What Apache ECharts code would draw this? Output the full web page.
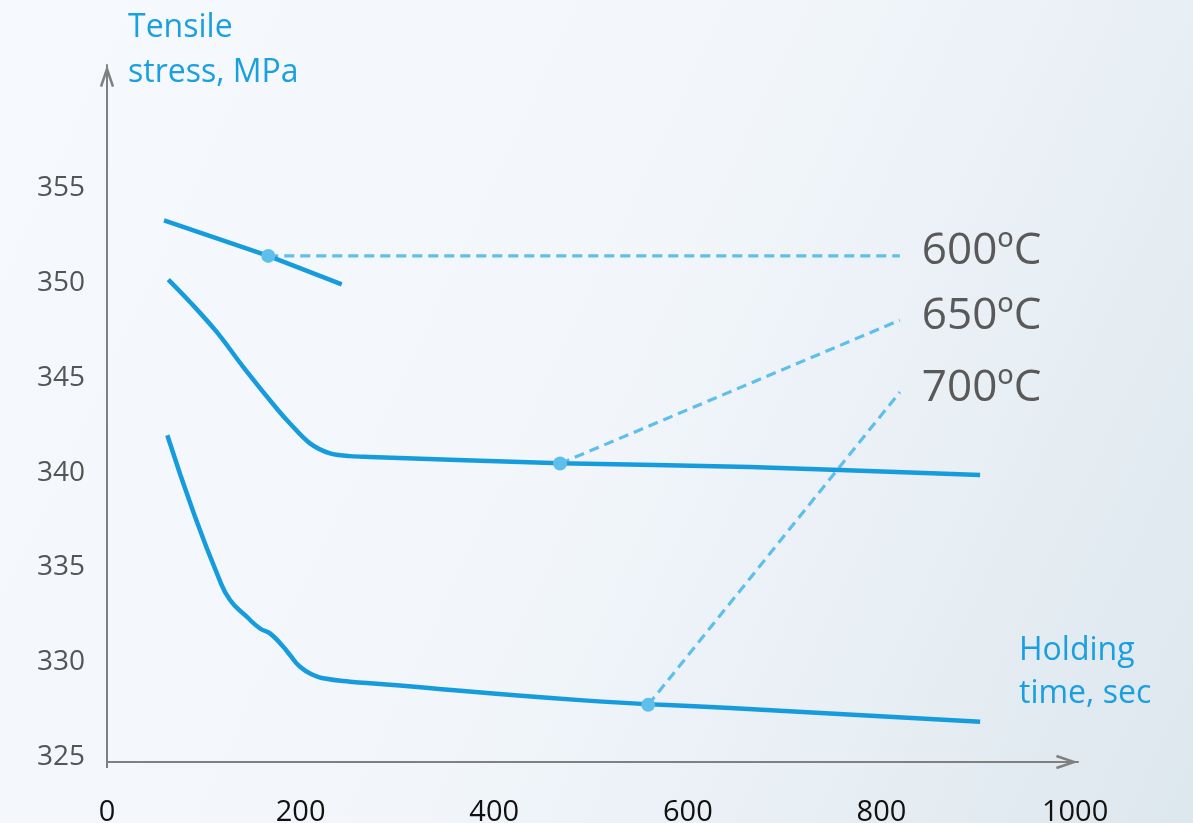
<!DOCTYPE html>
<html><head><meta charset="utf-8">
<script src="https://cdn.jsdelivr.net/npm/echarts@6/dist/echarts.min.js"></script>
<style>
html,body{margin:0;padding:0;}
#c{width:1193px;height:823px;background:linear-gradient(115deg,#f6f9fe 0%,#f2f6fb 50%,#dde7ee 100%);}
</style>
</head><body><div id="c"></div>
<script>
// ---- data ----
const xTicks = [0, 200, 400, 600, 800, 1000];
const yTicks = [325, 330, 335, 340, 345, 350, 355];

const time600 = [58.9, 166.6, 242.5];
const stress600 = [353.31, 351.43, 349.93];

const time650 = [63.3, 85.7, 113.3, 140.8, 175.3, 189, 209.7, 230.4, 251, 271.7, 468, 664, 901.9];
const stress650 = [350.18, 349.0, 347.42, 345.57, 343.38, 342.59, 341.54, 341.01, 340.87, 340.83, 340.50, 340.29, 339.87];

const time700 = [62.3, 89.2, 115.0, 127.1, 144.3, 158.1, 168.4, 182.1, 189.0, 199.4, 213.1, 223.5, 251.0, 282, 488.6, 643.6, 901.9];
const stress700 = [341.97, 337.92, 334.50, 333.28, 332.40, 331.78, 331.52, 330.81, 330.38, 329.76, 329.32, 329.15, 328.97, 328.85, 328.0, 327.58, 326.86];

const tempLabels = ['600ºC', '650ºC', '700ºC'];
const markerTime = [166.6, 468, 559];
const markerStress = [351.43, 340.48, 327.75];
const leaderEndTime = [819, 819, 819];
const leaderEndStress = [351.43, 348.04, 344.25];

// ---- styles ----
const FONT = "'Open Sans', 'Noto Sans', sans-serif";
const LINE_BLUE = '#169cdc';
const LIGHT_BLUE = '#5ec0ea';
const AXIS_GRAY = '#808080';
const CHEVRON = 'path://M15,0 L30,44 L25,45.8 L15,16.5 L5,45.8 L0,44 Z';

const zip = (xs, ys) => xs.map((x, i) => [x, ys[i]]);

const dataLine = (name, xs, ys, smooth) => ({
  type: 'line', name, data: zip(xs, ys), smooth, showSymbol: false, symbol: 'none',
  lineStyle: { color: LINE_BLUE, width: 4.5, cap: 'butt' }, z: 3, silent: true
});

const leaders = tempLabels.map((t, i) => ({
  type: 'line', name: t,
  data: [[markerTime[i], markerStress[i]], [leaderEndTime[i], leaderEndStress[i]]],
  symbol: 'none', showSymbol: false,
  lineStyle: { color: LIGHT_BLUE, width: 3.2, type: [10, 6] }, z: 2, silent: true,
  endLabel: { show: true, formatter: () => t, distance: 22, offset: [0, -4],
              fontSize: 44, color: '#595959', fontFamily: FONT }
}));

const chart = echarts.init(document.getElementById('c'), null, { renderer: 'canvas' });
chart.setOption({
  backgroundColor: 'transparent',
  animation: false,
  grid: { left: 107, right: 115, top: 65, bottom: 66, outerBoundsMode: 'none', containLabel: false },
  xAxis: {
    type: 'value', min: 0, max: 1003, interval: 200, offset: 5,
    name: 'Holding\ntime, sec', nameLocation: 'end', nameGap: -59,
    nameTextStyle: { color: '#1a9fe0', fontSize: 32, fontFamily: FONT, align: 'left',
                     verticalAlign: 'bottom', lineHeight: 43, padding: [0, 0, 47, 0] },
    axisLine: { show: true, lineStyle: { color: AXIS_GRAY, width: 2 },
                symbol: ['none', CHEVRON], symbolSize: [15, 22], symbolOffset: [0, -11] },
    axisTick: { show: false }, splitLine: { show: false },
    axisLabel: { formatter: v => xTicks.includes(v) ? String(v) : '', color: '#111', fontSize: 29,
                 fontFamily: FONT, margin: 36 }
  },
  yAxis: {
    type: 'value', min: 325, max: 361.5, interval: 5,
    name: 'Tensile\nstress, MPa', nameLocation: 'end', nameGap: 14.5,
    nameTextStyle: { color: '#1a9fe0', fontSize: 32, fontFamily: FONT, align: 'left',
                     verticalAlign: 'middle', lineHeight: 45, padding: [0, 0, 0, 21] },
    axisLine: { show: true, lineStyle: { color: AXIS_GRAY, width: 2 },
                symbol: ['none', CHEVRON], symbolSize: [15, 22], symbolOffset: [0, -11] },
    axisTick: { show: false }, splitLine: { show: false },
    axisLabel: { formatter: v => yTicks.includes(v) ? String(v) : '', color: '#555', fontSize: 28,
                 fontFamily: FONT, margin: 22 }
  },
  graphic: [{
    type: 'line', shape: { x1: 107, y1: 755, x2: 107, y2: 768 },
    style: { stroke: AXIS_GRAY, lineWidth: 2 }, silent: true
  }],
  series: [
    dataLine('600°C', time600, stress600, false),
    dataLine('650°C', time650, stress650, 0.35),
    dataLine('700°C', time700, stress700, 0.5),
    ...leaders,
    {
      type: 'scatter', name: 'markers', data: zip(markerTime, markerStress),
      symbol: 'circle', symbolSize: 14, itemStyle: { color: LIGHT_BLUE, opacity: 1 }, z: 4, silent: true
    }
  ]
});
</script></body></html>
